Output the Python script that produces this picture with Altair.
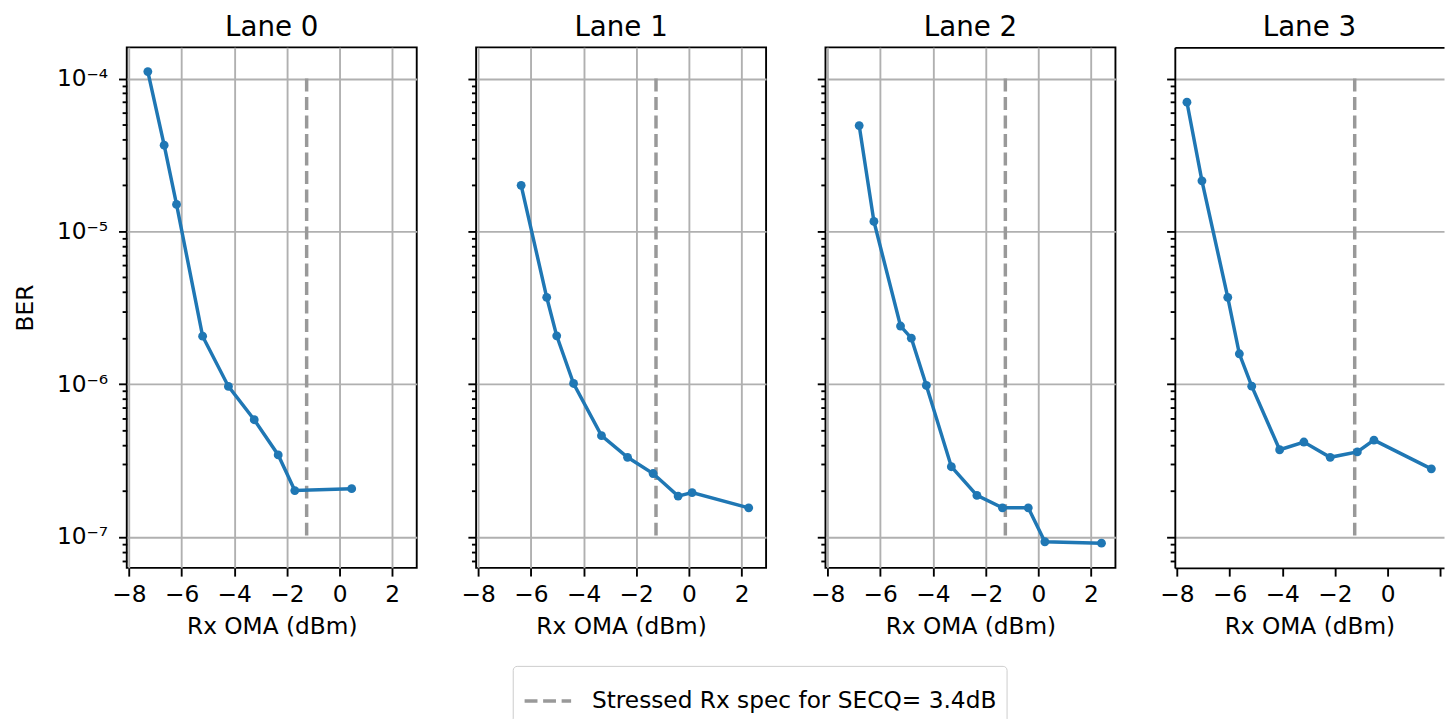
import altair as alt
import pandas as pd

lane_titles = ["Lane 0", "Lane 1", "Lane 2", "Lane 3"]

lane0_oma = [-7.28, -6.66, -6.19, -5.20, -4.22, -3.24, -2.33, -1.70, 0.46]
lane0_ber = [1.11e-4, 3.66e-5, 1.50e-5, 2.06e-6, 9.66e-7, 5.85e-7, 3.44e-7, 2.01e-7, 2.07e-7]
lane1_oma = [-6.37, -5.40, -5.02, -4.38, -3.32, -2.33, -1.36, -0.41, 0.12, 2.27]
lane1_ber = [2.0e-5, 3.7e-6, 2.07e-6, 1.01e-6, 4.6e-7, 3.32e-7, 2.6e-7, 1.85e-7, 1.95e-7, 1.55e-7]
lane2_oma = [-6.80, -6.24, -5.23, -4.82, -4.25, -3.30, -2.33, -1.36, -0.38, 0.25, 2.40]
lane2_ber = [4.92e-5, 1.16e-5, 2.4e-6, 2.0e-6, 9.8e-7, 2.88e-7, 1.87e-7, 1.55e-7, 1.55e-7, 9.3e-8, 9.1e-8]
lane3_oma = [-7.62, -7.05, -6.07, -5.63, -5.16, -4.10, -3.18, -2.18, -1.15, -0.52, 1.66]
lane3_ber = [7.0e-5, 2.14e-5, 3.7e-6, 1.58e-6, 9.7e-7, 3.72e-7, 4.18e-7, 3.32e-7, 3.6e-7, 4.3e-7, 2.79e-7]

spec_label = "Stressed Rx spec for SECQ= 3.4dB"
spec_oma = [-1.25]
spec_ber_top = [1e-4]
spec_ber_bottom = [1e-7]

x_ticks = [-8, -6, -4, -2, 0, 2]
y_major_ticks = [1e-7, 1e-6, 1e-5, 1e-4]
y_major_labels = ["10\u207b\u2077", "10\u207b\u2076", "10\u207b\u2075", "10\u207b\u2074"]
y_minor_mantissas = [2, 3, 4, 5, 6, 7, 8, 9]
x_domain = [-8.08, 2.93]
y_domain = [6.27e-8, 1.6e-4]

omas = [lane0_oma, lane1_oma, lane2_oma, lane3_oma]
bers = [lane0_ber, lane1_ber, lane2_ber, lane3_ber]

BLUE = "#1f77b4"
FONT = "DejaVu Sans"
FS = 23.5
PANEL_W = 293
PANEL_H = 526
LAST_W = 272  # the last panel is cut by the picture's right edge

y_all_ticks = [7e-8, 8e-8, 9e-8] + y_major_ticks[:1]
for e in range(-7, -4):
    y_all_ticks += [m * 10.0 ** e for m in y_minor_mantissas] + [10.0 ** (e + 1)]

major_test = "abs(log(datum.value)/LN10 - round(log(datum.value)/LN10)) < 0.001"
label_expr = "''"
for v, lab in zip(y_major_ticks, y_major_labels):
    label_expr = f"abs(datum.value/{v!r} - 1) < 0.001 ? '{lab}' : " + label_expr

spec_df = pd.DataFrame({"oma": spec_oma, "top": spec_ber_top,
                        "bottom": spec_ber_bottom, "label": [spec_label]})


def y_axis(show_labels, show_domain):
    kw = dict(
        values=y_all_ticks,
        grid=True,
        gridOpacity={"condition": {"test": major_test, "value": 1}, "value": 0},
        tickSize={"condition": {"test": major_test, "value": 8.3}, "value": 4.7},
        labelOverlap=False,
        domain=show_domain,
        domainColor="black",
        domainWidth=1.9,
    )
    if show_labels:
        kw.update(labels=True, labelExpr=label_expr, title="BER",
                  labelPadding=11, titlePadding=19)
    else:
        kw.update(labels=False, title=None)
    return alt.Axis(**kw)


def panel(i):
    last = i == 3
    width = LAST_W if last else PANEL_W
    dom = x_domain if not last else [
        x_domain[0], x_domain[0] + (x_domain[1] - x_domain[0]) * LAST_W / PANEL_W]
    df = pd.DataFrame({"oma": omas[i], "ber": bers[i]})
    xaxis_kw = dict(values=x_ticks, format="d", labelFlush=False,
                    labelOverlap=False, domain=last, domainColor="black",
                    domainWidth=1.9, tickSize=8.3, labelPadding=7, titlePadding=8)
    if last:
        xaxis_kw["labelExpr"] = "datum.value > 1 ? '' : datum.label"
    x = alt.X("oma:Q", title="Rx OMA (dBm)",
              scale=alt.Scale(domain=dom, nice=False, zero=False),
              axis=alt.Axis(**xaxis_kw))
    y = alt.Y("ber:Q", title="BER",
              scale=alt.Scale(type="log", domain=y_domain, nice=False),
              axis=y_axis(i == 0, last))
    line = alt.Chart(df).mark_line(
        color=BLUE, strokeWidth=3.5,
        point=alt.OverlayMarkDef(filled=True, size=80, color=BLUE, opacity=1),
    ).encode(x=x, y=y)
    rule_x = alt.X("oma:Q")
    if last:
        rule_x = alt.X("oma:Q", axis=alt.Axis(
            orient="top", labels=False, ticks=False, grid=False, title=None,
            domain=True, domainColor="black", domainWidth=1.9))
    rule = alt.Chart(spec_df).mark_rule(strokeDash=[13, 5.7], strokeWidth=3.5).encode(
        x=rule_x,
        y=alt.Y("top:Q"),
        y2=alt.Y2("bottom:Q"),
        color=alt.Color(
            "label:N",
            scale=alt.Scale(domain=[spec_label], range=["#999999"]),
            legend=alt.Legend(
                orient="none", legendX=390, legendY=625, direction="horizontal",
                title=None, symbolType="stroke", symbolSize=2209,
                symbolStrokeWidth=3.5, symbolDash=[13, 5.7],
                labelFontSize=FS, labelFont=FONT, labelColor="black",
                labelOffset=19, labelLimit=1000, padding=10,
                strokeColor="#cccccc", fillColor="white", cornerRadius=4,
            ),
        ),
    )
    props = dict(
        width=width, height=PANEL_H,
        title=alt.TitleParams(lane_titles[i], fontSize=28, font=FONT,
                              fontWeight="normal", anchor="middle",
                              offset=5.5, color="black"),
    )
    layered = alt.layer(rule, line)
    if last:
        props["view"] = alt.ViewBackground(stroke="transparent")
        layered = layered.resolve_axis(x="independent")
    return layered.properties(**props)


chart = alt.hconcat(*[panel(i) for i in range(4)], spacing=42).properties(
    padding={"left": 5, "top": 1, "right": 0, "bottom": 0}
).configure(font=FONT).configure_view(
    stroke="black", strokeWidth=1.9
).configure_axis(
    labelFont=FONT, labelFontSize=FS, labelColor="black",
    titleFont=FONT, titleFontSize=FS, titleFontWeight="normal", titleColor="black",
    tickColor="black", tickWidth=1.9, gridColor="#b0b0b0", gridWidth=1.9,
)

chart.save("out.html", embed_options={"renderer": "svg", "actions": False})
